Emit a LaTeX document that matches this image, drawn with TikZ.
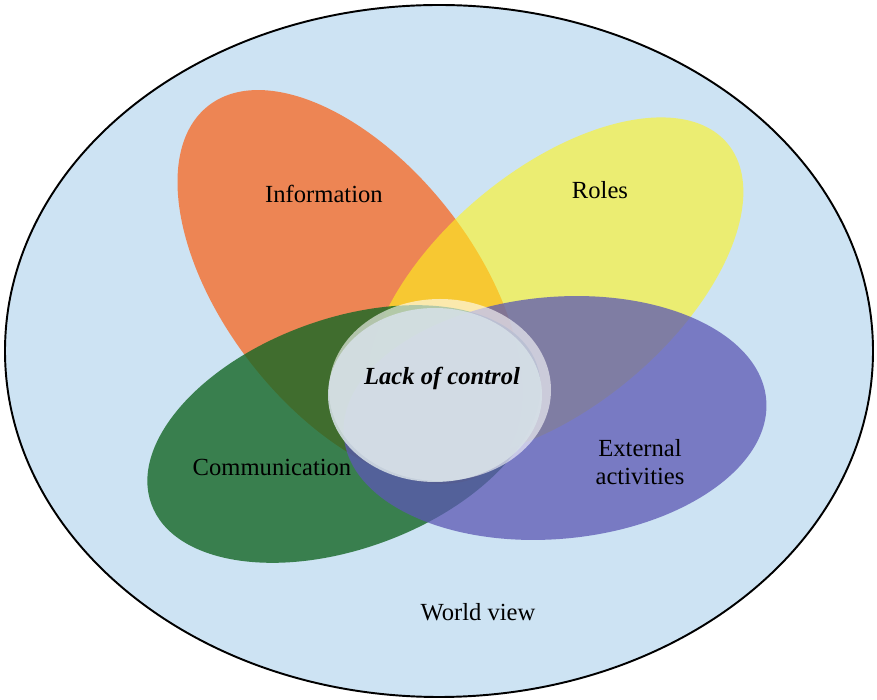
\documentclass[tikz,border=0pt]{standalone}
\usepackage{fontspec}
\setmainfont{Liberation Serif}
\usepackage{tikz}
\usetikzlibrary{shapes.geometric}
\definecolor{himmel}{RGB}{205,227,243}
\definecolor{orangeblase}{RGB}{255,84,0}
\definecolor{gelbblase}{RGB}{255,245,28}
\definecolor{gruenblase}{RGB}{21,103,37}
\definecolor{blaublase}{RGB}{92,88,180}
\definecolor{kern}{RGB}{214,224,231}
\tikzset{blase/.style={ellipse,inner sep=0pt,fill opacity=0.7},
         schrift/.style={font=\fontsize{14}{16}\selectfont,align=center}}

\begin{document}
\begin{tikzpicture}
    \useasboundingbox (0,0) rectangle (17.54,14);
    \path node [ellipse, draw=black, line width=1.1pt, fill=himmel,
                minimum width=17.36cm, minimum height=13.84cm] (1) at (8.78,6.98) {}
          node [blase, fill=orangeblase, fill opacity=0.65, minimum width=9.2cm,
                minimum height=5cm, rotate=-52] (2) at (7.0,8.26) {}
          node [blase, fill=gelbblase, fill opacity=0.6, minimum width=9cm,
                minimum height=4.72cm, rotate=40] (3) at (11.1,8.24) {}
          node [blase, fill=gruenblase, fill opacity=0.8, minimum width=8.2cm,
                minimum height=4.6cm, rotate=20] (4) at (6.88,5.32) {}
          node [blase, fill=blaublase, fill opacity=0.75, minimum width=8.48cm,
                minimum height=4.84cm, rotate=5] (5) at (11.1,5.64) {}
          % heller Rand oben rechts
          node [blase, fill=white, fill opacity=0.6, minimum width=4.44cm,
                minimum height=3.64cm] (6) at (8.8,6.2) {}
          node [blase, fill=kern, fill opacity=0.88, minimum width=4.28cm,
                minimum height=3.48cm] (7) at (8.7,6.1) {};

    \path node [schrift] (8) at (6.48,10.12) {Information}
          node [schrift] (9) at (12.0,10.2) {Roles}
          node [schrift] (10) at (8.84,6.44) {\textbf{\textit{Lack of control}}}
          node [schrift] (11) at (5.44,4.66) {Communication}
          node [schrift] (12) at (12.8,4.76) {External\\activities}
          node [schrift] (13) at (9.56,1.76) {World view};
\end{tikzpicture}
\end{document}
